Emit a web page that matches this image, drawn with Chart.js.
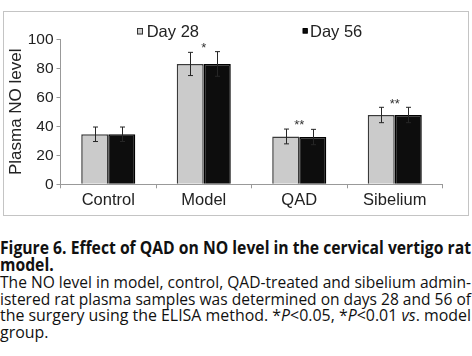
<!DOCTYPE html>
<html><head><meta charset="utf-8">
<script src="https://cdn.jsdelivr.net/npm/chart.js@4.4.0/dist/chart.umd.min.js"></script>
<style>
html,body{margin:0;padding:0;background:#fff;width:472px;height:356px;overflow:hidden;}
#frame{position:absolute;left:3px;top:11px;width:466px;height:205px;box-sizing:border-box;border:1px solid #c4c4c4;}
#c{position:absolute;left:0;top:0;}
.ln{position:absolute;left:0;white-space:nowrap;font-family:"Open Sans";font-size:17px;line-height:16.7px;color:#111;transform-origin:0 0;}
.b{font-weight:bold;}
</style></head>
<body>
<div id="frame"><canvas id="c" width="464" height="203"></canvas></div>
<div id="cap">
<div class="ln b full" style="top:240px">Figure 6. Effect of QAD on NO level in the cervical vertigo rat</div>
<div class="ln b" style="top:256.7px">model.</div>
<div class="ln full" style="top:274px">The NO level in model, control, QAD-treated and sibelium admin-</div>
<div class="ln full" style="top:290.7px">istered rat plasma samples was determined on days 28 and 56 of</div>
<div class="ln full" style="top:307.3px">the surgery using the ELISA method. *<i>P</i>&lt;0.05, *<i>P</i>&lt;0.01 <i>vs</i>. model</div>
<div class="ln" style="top:324px">group.</div>
</div>
<script>
const categories = ['Control', 'Model', 'QAD', 'Sibelium'];
const seriesNames = ['Day 28', 'Day 56'];
const day28 = [34.5, 83, 33, 47.8];
const day56 = [34.5, 83, 32.6, 47.8];
const day28Err = [5, 8, 5.1, 5.3];
const day56Err = [5, 8.5, 5.3, 5.3];
const significance = ['', '*', '**', '**'];
const yAxisTitle = 'Plasma NO level';

// caption fitting
(function(){
  let last = 1;
  document.querySelectorAll('.ln').forEach(el => {
    if (el.classList.contains('full')) {
      const w = el.getBoundingClientRect().width;
      last = 471 / w;
    }
    el.style.transform = 'scaleX(' + last + ')';
  });
})();

const errors = [day28Err, day56Err];

const errorBarPlugin = {
  id: 'errbars',
  afterDatasetsDraw(chart) {
    const ctx = chart.ctx, y = chart.scales.y;
    ctx.save();
    ctx.strokeStyle = '#262626';
    ctx.lineWidth = 1;
    chart.data.datasets.forEach((ds, di) => {
      const meta = chart.getDatasetMeta(di);
      meta.data.forEach((bar, i) => {
        const v = ds.data[i], e = errors[di][i];
        const x = Math.round(bar.x) + 0.5;
        const t = y.getPixelForValue(v + e), b = y.getPixelForValue(v - e);
        ctx.beginPath();
        ctx.moveTo(x, t); ctx.lineTo(x, b);
        ctx.moveTo(x - 2.5, t); ctx.lineTo(x + 2.5, t);
        ctx.moveTo(x - 2.5, b); ctx.lineTo(x + 2.5, b);
        ctx.stroke();
      });
    });
    // significance marks
    ctx.fillStyle = '#333';
    ctx.font = '13px "Liberation Sans"';
    ctx.textAlign = 'center';
    ctx.textBaseline = 'alphabetic';
    const xs = chart.scales.x;
    significance.forEach((s, i) => {
      if (!s) return;
      const top = Math.max(day28[i] + day28Err[i], day56[i] + day56Err[i]);
      const cy = y.getPixelForValue(top) - 7;
      ctx.fillText(s, xs.getPixelForValue(i), cy + 7.4);
    });
    ctx.restore();
  }
};

const decorPlugin = {
  id: 'decor',
  afterDraw(chart) {
    const ctx = chart.ctx, a = chart.chartArea;
    ctx.save();
    ctx.fillStyle = '#222';
    ctx.font = '17px "Liberation Sans"';
    ctx.textAlign = 'center';
    ctx.textBaseline = 'middle';
    ctx.translate(12, (a.top + a.bottom) / 2);
    ctx.rotate(-Math.PI / 2);
    ctx.fillText(yAxisTitle, 0, 0);
    ctx.restore();
    ctx.save();
    ctx.font = '16.5px "Liberation Sans"';
    ctx.textBaseline = 'middle';
    ctx.textAlign = 'left';
    const L = a.left;
    const items = [
      {bx: L + 76.5, bw: 6, tx: L + 86.2, fill: '#cbcbcb', stroke: '#333'},
      {bx: L + 242.2, bw: 5, tx: L + 249.5, fill: '#0d0d0d', stroke: '#000'}
    ];
    items.forEach((it, i) => {
      ctx.fillStyle = it.fill;
      ctx.fillRect(it.bx, 16.5, it.bw, it.bw);
      ctx.strokeStyle = it.stroke;
      ctx.lineWidth = 1;
      ctx.strokeRect(it.bx + 0.5, 16.5, it.bw - 1, it.bw - 0.5);
      ctx.fillStyle = '#222';
      ctx.fillText(seriesNames[i], it.tx, 20);
    });
    ctx.restore();
  }
};

new Chart(document.getElementById('c').getContext('2d'), {
  type: 'bar',
  data: {
    labels: categories,
    datasets: [
      {label: seriesNames[0], data: day28, backgroundColor: '#cbcbcb', borderColor: '#3a3a3a', borderWidth: 1.5},
      {label: seriesNames[1], data: day56, backgroundColor: '#0d0d0d', borderColor: '#000', borderWidth: 1.5}
    ]
  },
  options: {
    responsive: false,
    animation: false,
    devicePixelRatio: 1,
    categoryPercentage: 0.566,
    barPercentage: 1,
    layout: {padding: {top: 27.3, right: 25.5, left: 0, bottom: 0}},
    plugins: {legend: {display: false}, tooltip: {enabled: false}},
    scales: {
      x: {
        grid: {offset: true, drawOnChartArea: false, tickLength: 4, color: '#999'},
        border: {color: '#999'},
        ticks: {font: {family: 'Liberation Sans', size: 16.5}, color: '#222', padding: 2},
        afterFit(s) { s.height = 30.7; }
      },
      y: {
        min: 0, max: 100,
        ticks: {stepSize: 10, callback: v => (v % 20 === 0 ? v : ''), font: {family: 'Liberation Sans', size: 15.5}, color: '#222', padding: 3},
        grid: {drawOnChartArea: false, tickLength: 4, color: '#999'},
        border: {color: '#999'},
        afterFit(s) { s.width = 56.5; }
      }
    }
  },
  plugins: [errorBarPlugin, decorPlugin]
});
</script>
</body></html>
